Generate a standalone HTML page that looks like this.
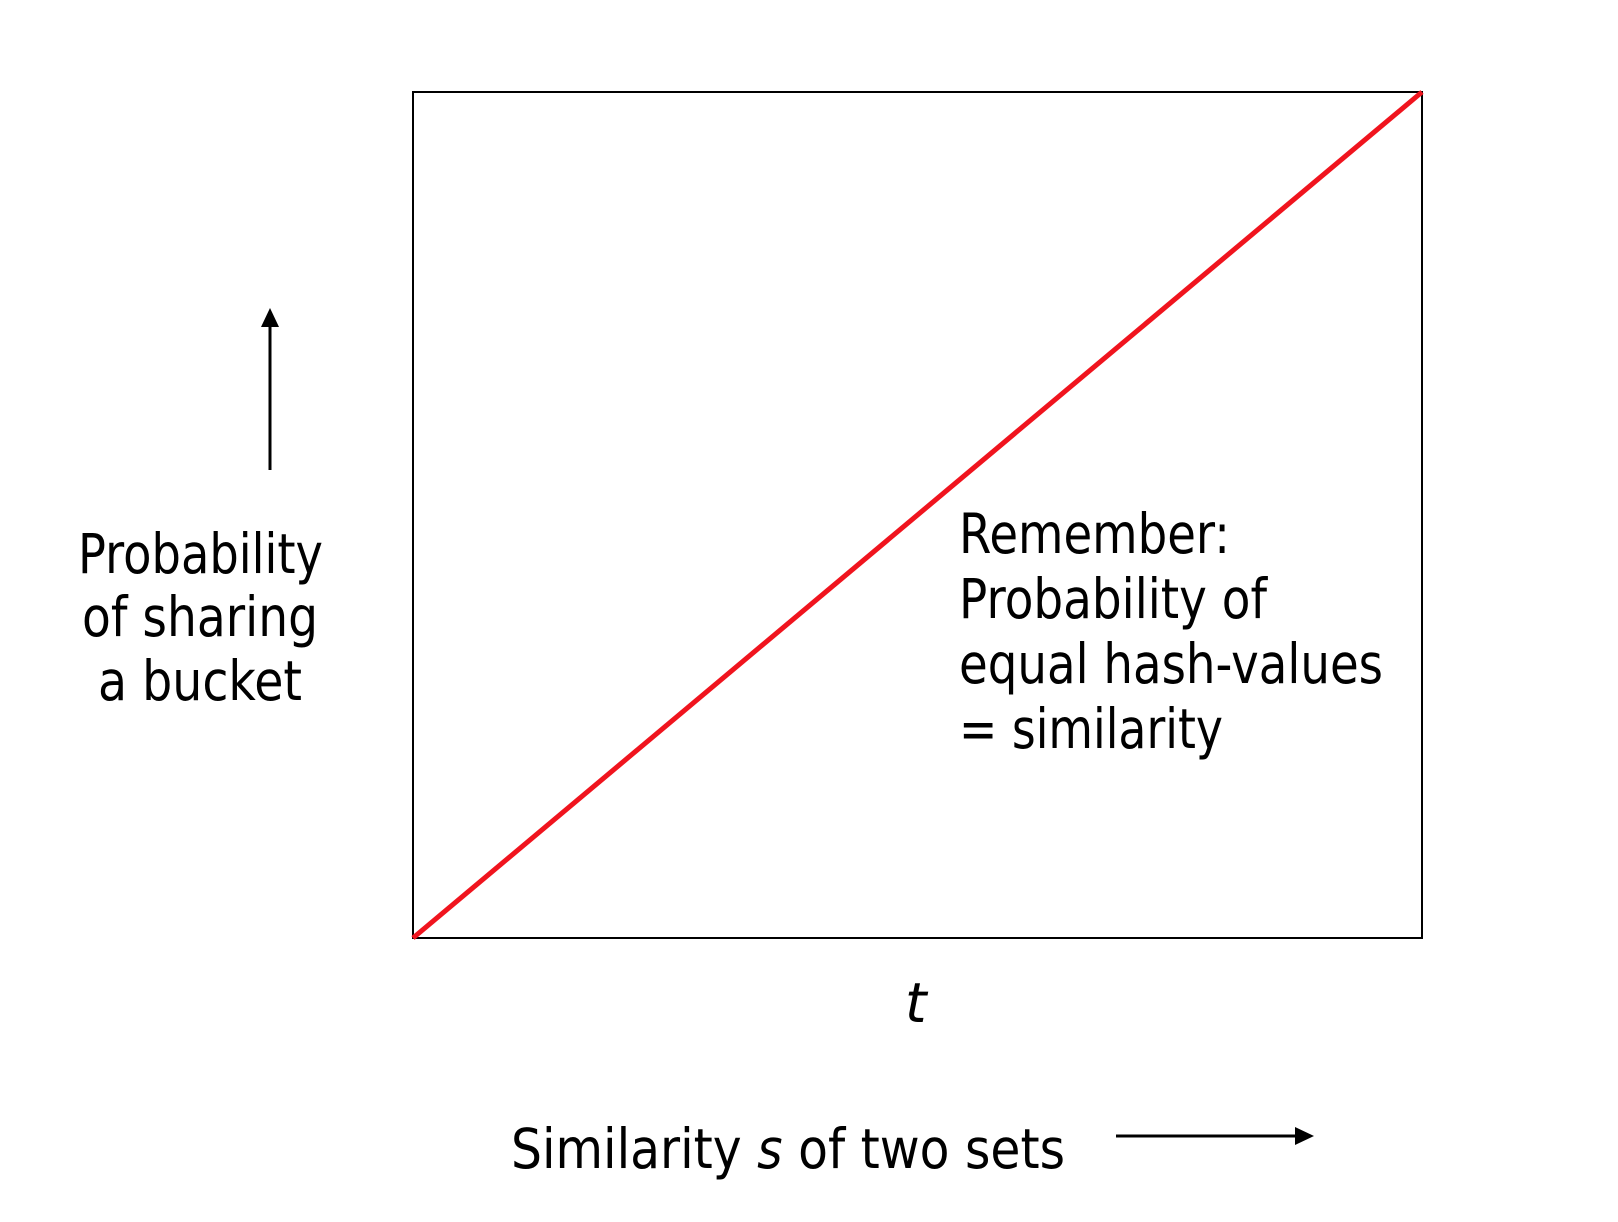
<!DOCTYPE html>
<html><head><meta charset="utf-8"><style>
html,body{margin:0;padding:0;background:#fff;}
svg{display:block;}
text{font-family:"DejaVu Sans","Liberation Sans",sans-serif;font-size:55px;fill:#000;}
</style></head><body>
<svg id="chart" width="1618" height="1222" viewBox="0 0 1618 1222" xmlns="http://www.w3.org/2000/svg">
<rect x="413" y="92" width="1009" height="846" fill="none" stroke="#000" stroke-width="2"/>
<g id="series"></g>
<line x1="270" y1="470" x2="270" y2="326" stroke="#000" stroke-width="3"/>
<polygon points="270,308 261,327 279,327" fill="#000"/>
<line x1="1116" y1="1136" x2="1296" y2="1136" stroke="#000" stroke-width="3"/>
<polygon points="1314,1136 1295,1127 1295,1145" fill="#000"/>
<g>
<text x="78" y="573" textLength="245" lengthAdjust="spacingAndGlyphs">Probability</text>
<text x="82" y="636" textLength="236" lengthAdjust="spacingAndGlyphs">of sharing</text>
<text x="98" y="700" textLength="204" lengthAdjust="spacingAndGlyphs">a bucket</text>
</g>
<g>
<text x="959" y="553" textLength="271" lengthAdjust="spacingAndGlyphs">Remember:</text>
<text x="959" y="618" textLength="308" lengthAdjust="spacingAndGlyphs">Probability of</text>
<text x="959" y="683" textLength="424" lengthAdjust="spacingAndGlyphs">equal hash-values</text>
<text x="959" y="748" textLength="264" lengthAdjust="spacingAndGlyphs">= similarity</text>
</g>
<text x="905" y="1022" font-style="italic">t</text>
<text x="511" y="1168" textLength="554" lengthAdjust="spacingAndGlyphs">Similarity <tspan font-style="italic">s</tspan>  of two sets</text>
</svg>
<script>
const similarity = [0, 1];
const probability = [0, 1];
const X0 = 413, X1 = 1422, Y0 = 938, Y1 = 92;
function xScale(v){ return X0 + v * (X1 - X0); }
function yScale(v){ return Y0 - v * (Y0 - Y1); }
const g = document.getElementById('series');
const pts = similarity.map((s, i) => xScale(s) + ',' + yScale(probability[i])).join(' ');
const pl = document.createElementNS('http://www.w3.org/2000/svg', 'polyline');
pl.setAttribute('points', pts);
pl.setAttribute('fill', 'none');
pl.setAttribute('stroke', '#f0141e');
pl.setAttribute('stroke-width', '5');


g.appendChild(pl);
</script>
</body></html>
